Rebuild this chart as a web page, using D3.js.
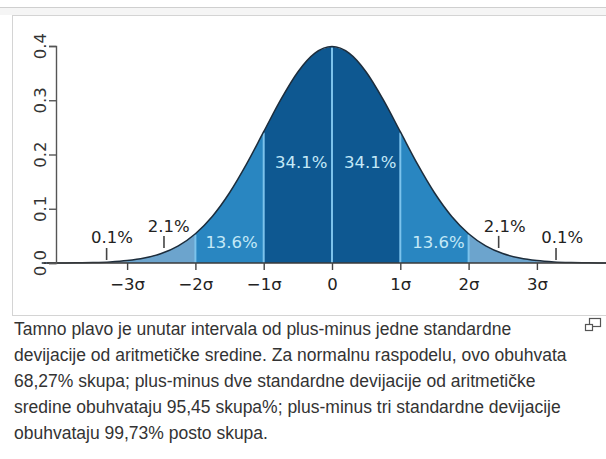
<!DOCTYPE html>
<html>
<head>
<meta charset="utf-8">
<script src="https://cdn.jsdelivr.net/npm/d3@7"></script>
<style>
  html, body { margin: 0; padding: 0; background: #ffffff; }
  svg { display: block; }
</style>
</head>
<body>
<svg id="chart" width="606" height="459"></svg>
<script>
// ---- data ----
// sampled density of the curve (x in sigma units, y density)
const curveX = [-4.25,-4,-3.75,-3.5,-3.25,-3,-2.75,-2.5,-2.25,-2,-1.75,-1.5,-1.25,-1,-0.75,-0.5,-0.25,0,0.25,0.5,0.75,1,1.25,1.5,1.75,2,2.25,2.5,2.75,3,3.25,3.5,3.75,4,4.25];
const curveY = [0.0000,0.0001,0.0004,0.0009,0.0020,0.0044,0.0091,0.0175,0.0317,0.0540,0.0863,0.1295,0.1826,0.2420,0.3011,0.3521,0.3867,0.3989,0.3867,0.3521,0.3011,0.2420,0.1826,0.1295,0.0863,0.0540,0.0317,0.0175,0.0091,0.0044,0.0020,0.0009,0.0004,0.0001,0.0000];
// bands between boundaries
const bandStart = [-4.25,-3,-2,-1,0,1,2,3];
const bandEnd   = [-3,-2,-1,0,1,2,3,4.25];
const bandLevel = [3,2,1,0,0,1,2,3];
// divider lines
const dividers = [-2,-1,0,1,2];
// inner percentage labels
const innerLabels = ["34.1%","34.1%","13.6%","13.6%"];
const innerX = [-0.45,0.56,-1.47,1.56];
const innerY = [0.175,0.175,0.027,0.027];
// outer percentage labels with their marker lines
const outerLabels = ["0.1%","2.1%","2.1%","0.1%"];
const outerX = [-3.22,-2.39,2.53,3.37];
const outerY = [0.037,0.057,0.057,0.037];
const markerX = [-3.3,-2.46,2.44,3.28];
const markerLow = [0.0055,0.0276,0.0276,0.0055];
const markerHigh = [0.0276,0.050,0.050,0.0276];
// axis ticks
const xTicks = [-3,-2,-1,0,1,2,3];
const xTickLabels = ["\u22123\u03c3","\u22122\u03c3","\u22121\u03c3","0","1\u03c3","2\u03c3","3\u03c3"];
const yTicks = [0,0.1,0.2,0.3,0.4];
const yTickLabels = ["0.0","0.1","0.2","0.3","0.4"];
// caption
const captionLines = [
  "Tamno plavo je unutar intervala od plus-minus jedne standardne",
  "devijacije od aritmetičke sredine. Za normalnu raspodelu, ovo obuhvata",
  "68,27% skupa; plus-minus dve standardne devijacije od aritmetičke",
  "sredine obuhvataju 95,45 skupa%; plus-minus tri standardne devijacije",
  "obuhvataju 99,73% posto skupa."
];

// ---- drawing ----
const svg = d3.select("#chart");
const bandColors = ["#0e5891", "#2986c1", "#6ca4cd", "#8aa9c2"];
const font = "'DejaVu Sans', sans-serif";
const fs = 16.5;

// frame of the page
svg.append("rect").attr("x", 0).attr("y", 7).attr("width", 606).attr("height", 8).attr("fill", "#f5f5f5");
svg.append("line").attr("x1", 0).attr("x2", 606).attr("y1", 7.5).attr("y2", 7.5).attr("stroke", "#cfcfcf");
svg.append("rect").attr("x", 12.5).attr("y", 15.5).attr("width", 620).attr("height", 300)
  .attr("fill", "#ffffff").attr("stroke", "#d4d4d4");

const x = d3.scaleLinear().domain([-4, 4]).range([58.8, 605.2]);
const y = d3.scaleLinear().domain([0, 0.4]).range([263, 46]);

const pts = curveX.map((v, i) => [v, curveY[i]]);

// bands
const area = d3.area().x(d => x(d[0])).y0(y(0)).y1(d => y(d[1])).curve(d3.curveMonotoneX);
bandStart.forEach((a, i) => {
  const b = bandEnd[i];
  const seg = pts.filter(p => p[0] >= a - 1e-9 && p[0] <= b + 1e-9);
  svg.append("path").datum(seg).attr("d", area).attr("fill", bandColors[bandLevel[i]]);
});

// divider lines
const lookup = v => curveY[curveX.indexOf(v)];
svg.selectAll("line.div").data(dividers).join("line").attr("class", "div")
  .attr("x1", d => x(d)).attr("x2", d => x(d))
  .attr("y1", y(0)).attr("y2", d => y(lookup(d)) + 1)
  .attr("stroke", "#7cc3ec").attr("stroke-width", 2);

// curve stroke
const line = d3.line().x(d => x(d[0])).y(d => y(d[1])).curve(d3.curveMonotoneX);
svg.append("path").datum(pts).attr("d", line).attr("fill", "none")
  .attr("stroke", "#1d2d3c").attr("stroke-width", 1.5);

// baseline
svg.append("line").attr("x1", 47).attr("x2", 606).attr("y1", y(0)).attr("y2", y(0))
  .attr("stroke", "#3a3a3a").attr("stroke-width", 1.6);

// x axis
const xAxis = d3.axisBottom(x).tickValues(xTicks).tickFormat((d, i) => xTickLabels[i]).tickSize(7);
const gx = svg.append("g").attr("transform", `translate(0,${y(0)})`).call(xAxis);
gx.select(".domain").remove();
gx.selectAll(".tick line").attr("stroke", "#444").attr("stroke-width", 1.4);
gx.selectAll(".tick text").attr("y", 15).attr("fill", "#222")
  .style("font-family", font).style("font-size", fs + "px");

// y axis
const yAxis = d3.axisLeft(y).tickValues(yTicks).tickFormat("").tickSize(7);
const gy = svg.append("g").attr("transform", `translate(56,0)`).call(yAxis);
gy.select(".domain").attr("stroke", "#555").attr("stroke-width", 1.4);
gy.selectAll(".tick line").attr("stroke", "#555").attr("stroke-width", 1.4);
svg.selectAll("text.ylab").data(yTicks).join("text").attr("class", "ylab")
  .attr("transform", d => `translate(46,${y(d)}) rotate(-90)`)
  .attr("text-anchor", "middle").attr("fill", "#333")
  .style("font-family", font).style("font-size", fs + "px")
  .text((d, i) => yTickLabels[i]);

// inner labels
svg.selectAll("text.inner").data(innerLabels).join("text").attr("class", "inner")
  .attr("x", (d, i) => x(innerX[i])).attr("y", (d, i) => y(innerY[i]))
  .attr("text-anchor", "middle").attr("fill", "#c4e9f7")
  .style("font-family", font).style("font-size", fs + "px")
  .text(d => d);

// outer markers
svg.selectAll("line.mark").data(markerX).join("line").attr("class", "mark")
  .attr("x1", d => x(d)).attr("x2", d => x(d))
  .attr("y1", (d, i) => y(markerLow[i])).attr("y2", (d, i) => y(markerHigh[i]))
  .attr("stroke", "#444").attr("stroke-width", 1.6);
svg.selectAll("text.outer").data(outerLabels).join("text").attr("class", "outer")
  .attr("x", (d, i) => x(outerX[i])).attr("y", (d, i) => y(outerY[i]))
  .attr("text-anchor", "middle").attr("fill", "#222")
  .style("font-family", font).style("font-size", fs + "px")
  .text(d => d);

// caption
svg.selectAll("text.cap").data(captionLines).join("text").attr("class", "cap")
  .attr("x", 14).attr("y", (d, i) => 335 + i * 26)
  .attr("fill", "#333333")
  .style("font-family", "'Liberation Sans', Arial, sans-serif").style("font-size", "17.5px")
  .text(d => d);

// enlarge icon
const icon = svg.append("g").attr("fill", "#ffffff").attr("stroke", "#555").attr("stroke-width", 1.2);
icon.append("rect").attr("x", 589.5).attr("y", 318.5).attr("width", 11).attr("height", 8);
icon.append("rect").attr("x", 585.5).attr("y", 324.5).attr("width", 7).attr("height", 6);
</script>
</body>
</html>
